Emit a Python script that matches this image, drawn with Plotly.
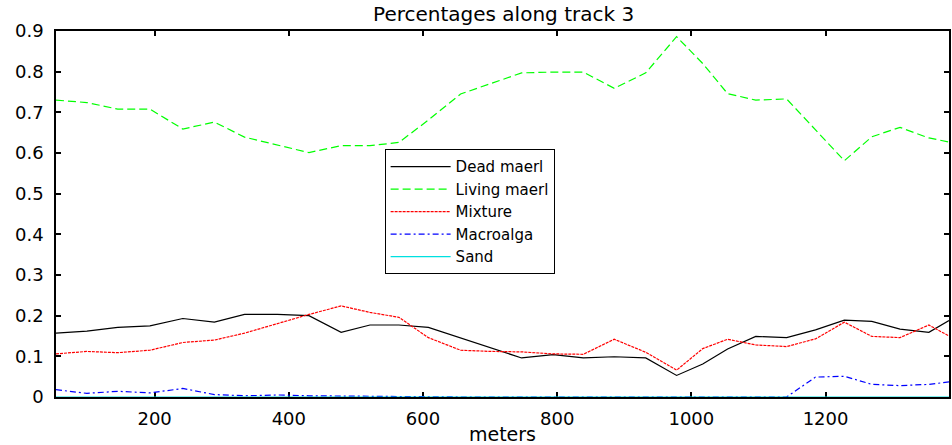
import plotly.graph_objects as go

# Distance along track 3 (m) at each sampled position
meters = [53, 99, 145, 193, 242, 289, 334, 383, 430, 478, 521, 564, 608, 656, 702,
          747, 794, 839, 885, 932, 978, 1017, 1054, 1096, 1142, 1185, 1228, 1269,
          1311, 1354, 1384]

# Fraction of each seabed class at those positions
dead_maerl = [0.157, 0.162, 0.171, 0.175, 0.193, 0.184, 0.203, 0.203, 0.200, 0.159,
              0.177, 0.177, 0.171, 0.145, 0.120, 0.096, 0.104, 0.096, 0.099, 0.096,
              0.053, 0.081, 0.118, 0.149, 0.146, 0.165, 0.189, 0.186, 0.167, 0.159,
              0.188]
living_maerl = [0.730, 0.724, 0.708, 0.708, 0.659, 0.676, 0.639, 0.620, 0.601, 0.618,
                0.618, 0.626, 0.681, 0.745, 0.771, 0.797, 0.799, 0.799, 0.759, 0.797,
                0.886, 0.820, 0.746, 0.730, 0.733, 0.657, 0.581, 0.640, 0.663, 0.637,
                0.627]
mixture = [0.106, 0.112, 0.109, 0.115, 0.134, 0.140, 0.157, 0.181, 0.203, 0.224,
           0.208, 0.196, 0.146, 0.115, 0.112, 0.111, 0.106, 0.105, 0.142, 0.110,
           0.066, 0.119, 0.142, 0.128, 0.124, 0.143, 0.184, 0.149, 0.146, 0.177,
           0.150]
macroalga = [0.018, 0.009, 0.014, 0.010, 0.021, 0.006, 0.003, 0.005, 0.003, 0.002,
             0.002, 0.002, 0.0, 0.0, 0.0, 0.0, 0.0, 0.0, 0.0, 0.0,
             0.0, 0.0, 0.0, 0.0, 0.0, 0.049, 0.051, 0.031, 0.028, 0.031,
             0.037]
sand = [0.0] * len(meters)

y_ticks = [0, 0.1, 0.2, 0.3, 0.4, 0.5, 0.6, 0.7, 0.8, 0.9]
y_tick_labels = ["0", "0.1", "0.2", "0.3", "0.4", "0.5", "0.6", "0.7", "0.8", "0.9"]
x_ticks = [200, 400, 600, 800, 1000, 1200]

FONT = "DejaVu Sans"

series = [
    ("Dead maerl", dead_maerl, dict(color="#000000", width=1.2, dash="solid")),
    ("Living maerl", living_maerl, dict(color="#00ff00", width=1.2, dash="8px,4px")),
    ("Mixture", mixture, dict(color="#ff0000", width=1.2, dash="3px,1px")),
    ("Macroalga", macroalga, dict(color="#0000ff", width=1.2, dash="6px,3px,2px,3px")),
    ("Sand", sand, dict(color="#00e0e0", width=1.2, dash="solid")),
]

fig = go.Figure()
for name, values, line in series:
    fig.add_trace(go.Scatter(x=meters, y=values, name=name, mode="lines",
                             line=line, cliponaxis=False))

axis_common = dict(
    showgrid=False, zeroline=False, showline=True, linecolor="black", linewidth=1.5,
    mirror="ticks", ticks="inside", ticklen=5, tickcolor="black", tickwidth=1.5,
    tickfont=dict(family=FONT, size=18, color="black"), layer="below traces",
)

fig.update_xaxes(range=[meters[0], meters[-1]], tickvals=x_ticks,
                 ticklabelstandoff=5,
                 title=dict(text="meters", font=dict(family=FONT, size=19, color="black"),
                            standoff=1),
                 **axis_common)
fig.update_yaxes(range=[0, 0.9], tickvals=y_ticks, ticktext=y_tick_labels,
                 ticklabelstandoff=7, **axis_common)

fig.update_layout(
    width=952, height=445,
    margin=dict(l=56, r=1, t=31, b=46),
    paper_bgcolor="white", plot_bgcolor="white",
    title=dict(text="Percentages along track 3", x=0.529, xanchor="center",
               y=0.968, yanchor="middle",
               font=dict(family=FONT, size=20, color="black")),
    legend=dict(x=0.368, y=0.506, xanchor="left", yanchor="middle",
                bgcolor="white", bordercolor="black", borderwidth=1,
                font=dict(family=FONT, size=15, color="black"),
                itemwidth=60, tracegroupgap=0),
    showlegend=True,
)

fig.write_html("out.html")
